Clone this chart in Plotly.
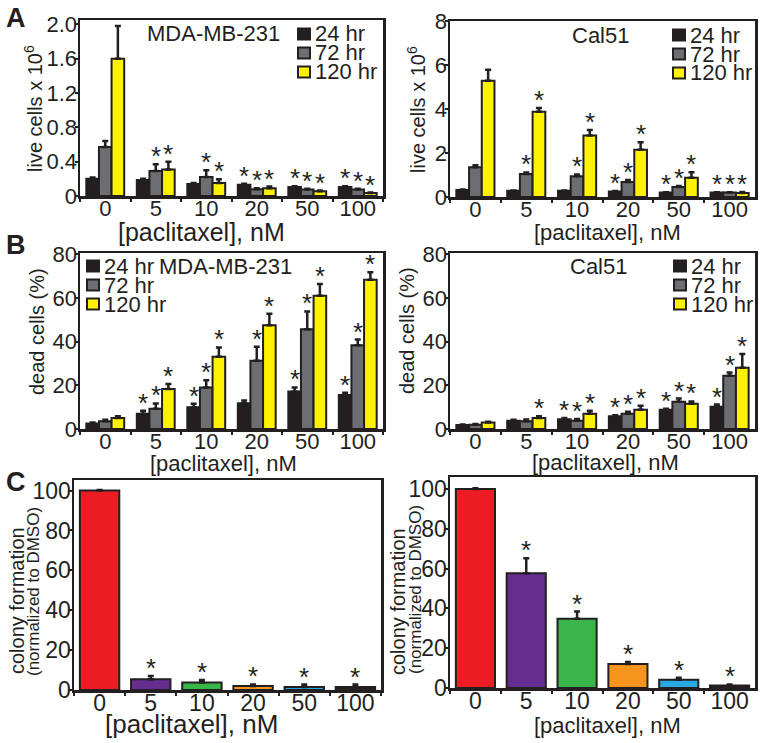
import plotly.graph_objects as go

# ---------------- data ----------------
conc = ["0", "5", "10", "20", "50", "100"]
series_names = ["24 hr", "72 hr", "120 hr"]

# Panel A: live cells x 10^6
mda_live_24 = [0.20, 0.185, 0.14, 0.13, 0.105, 0.105]
mda_live_24_err = [0.015, 0.015, 0.01, 0.012, 0.01, 0.01]
mda_live_72 = [0.57, 0.29, 0.22, 0.08, 0.075, 0.075]
mda_live_72_err = [0.07, 0.08, 0.08, 0.01, 0.01, 0.01]
mda_live_120 = [1.60, 0.31, 0.15, 0.09, 0.055, 0.035]
mda_live_120_err = [0.38, 0.09, 0.045, 0.02, 0.008, 0.005]
mda_live_star_24 = [0, 0, 0, 1, 1, 1]
mda_live_star_72 = [0, 1, 1, 1, 1, 1]
mda_live_star_120 = [0, 1, 1, 1, 1, 1]

cal_live_24 = [0.32, 0.28, 0.28, 0.25, 0.20, 0.20]
cal_live_24_err = [0.02, 0.02, 0.02, 0.02, 0.02, 0.02]
cal_live_72 = [1.35, 1.05, 0.95, 0.68, 0.45, 0.20]
cal_live_72_err = [0.10, 0.07, 0.08, 0.10, 0.05, 0.02]
cal_live_120 = [5.30, 3.88, 2.80, 2.15, 0.88, 0.18]
cal_live_120_err = [0.50, 0.17, 0.25, 0.35, 0.25, 0.05]
cal_live_star_24 = [0, 0, 0, 1, 1, 1]
cal_live_star_72 = [0, 1, 1, 1, 1, 1]
cal_live_star_120 = [0, 1, 1, 1, 1, 1]

# Panel B: dead cells (%)
mda_dead_24 = [2.5, 7.0, 10.0, 11.8, 17.2, 15.6]
mda_dead_24_err = [0.5, 1.4, 1.5, 1.2, 1.8, 1.0]
mda_dead_72 = [3.5, 9.3, 19.0, 31.2, 45.6, 38.3]
mda_dead_72_err = [0.7, 2.4, 3.3, 6.4, 8.2, 2.6]
mda_dead_120 = [5.0, 18.3, 33.0, 47.4, 61.0, 68.3]
mda_dead_120_err = [0.8, 2.3, 4.3, 5.3, 5.3, 3.4]
mda_dead_star_24 = [0, 1, 1, 0, 1, 1]
mda_dead_star_72 = [0, 1, 1, 1, 1, 1]
mda_dead_star_120 = [0, 1, 1, 1, 1, 1]

cal_dead_24 = [1.8, 3.8, 4.5, 5.8, 8.8, 10.2]
cal_dead_24_err = [0.3, 0.4, 0.5, 0.5, 0.5, 1.0]
cal_dead_72 = [2.0, 3.5, 3.8, 7.0, 12.5, 24.3]
cal_dead_72_err = [0.3, 0.8, 0.8, 0.9, 1.4, 1.5]
cal_dead_120 = [3.0, 5.0, 7.0, 8.8, 11.5, 28.0]
cal_dead_120_err = [0.3, 0.8, 1.3, 1.8, 1.1, 6.3]
cal_dead_star_24 = [0, 0, 1, 1, 1, 1]
cal_dead_star_72 = [0, 0, 1, 1, 1, 1]
cal_dead_star_120 = [0, 1, 1, 1, 1, 1]

# Panel C: colony formation (normalized to DMSO)
mda_colony = [100, 5.4, 3.8, 2.0, 1.5, 1.5]
mda_colony_err = [0.3, 1.6, 1.2, 0.8, 1.2, 1.2]
cal_colony = [100, 57.7, 34.8, 12.0, 4.2, 1.2]
cal_colony_err = [0.3, 7.5, 3.6, 1.0, 1.0, 0.6]
colony_star = [0, 1, 1, 1, 1, 1]

# ---------------- style ----------------
W, H = 764, 743
EDGE = "#231F20"
SERIES_COLORS = ["#231F20", "#6D6E71", "#FFF200"]
COLONY_COLORS = ["#ED1C24", "#662D91", "#39B54A", "#F7941D", "#27AAE1", "#231F20"]
FONT = "Liberation Sans, Arial, sans-serif"
STAR_SIZE = 26
STAR_SHIFT = -9

def px_x(v):
    return v / W

def px_y(v):
    return 1 - v / H

# panel frames in pixels: (left, right), (top, bottom)
frames = [
    ((80, 383), (20, 196)),
    ((450, 755), (21, 197)),
    ((80, 383), (253, 429)),
    ((450, 755), (253, 429)),
    ((74, 381), (480, 690)),
    ((450, 755), (477, 688)),
]

fig = go.Figure()
annotations = []
shapes = []

BW = 0.25  # single bar width in grouped panels

def axis_names(i):
    s = "" if i == 0 else str(i + 1)
    return "x" + s, "y" + s

def add_grouped(i, vals, errs, stars):
    xa, ya = axis_names(i)
    for k in range(3):
        off = -1.5 * BW + k * BW
        fig.add_trace(go.Bar(
            x=conc, y=vals[k], width=BW, offset=off,
            name=series_names[k], showlegend=False,
            marker=dict(color=SERIES_COLORS[k], line=dict(color=EDGE, width=2)),
            error_y=dict(type="data", array=errs[k], arrayminus=[0] * len(conc),
                         symmetric=False, color=EDGE, thickness=2.5, width=3),
            xaxis=xa, yaxis=ya,
        ))
        for j in range(len(conc)):
            if stars[k][j]:
                annotations.append(dict(
                    x=j + off + BW / 2, y=vals[k][j] + errs[k][j], xref=xa, yref=ya,
                    text="*", showarrow=False, yanchor="bottom",
                    font=dict(size=STAR_SIZE, color=EDGE, family=FONT), yshift=STAR_SHIFT,
                ))

def add_colony(i, vals, errs, stars):
    xa, ya = axis_names(i)
    bw = 0.77
    fig.add_trace(go.Bar(
        x=conc, y=vals, width=bw, showlegend=False,
        marker=dict(color=COLONY_COLORS, line=dict(color=EDGE, width=2)),
        error_y=dict(type="data", array=errs, arrayminus=[0] * len(conc),
                     symmetric=False, color=EDGE, thickness=2.5, width=3),
        xaxis=xa, yaxis=ya,
    ))
    for j in range(len(conc)):
        if stars[j]:
            annotations.append(dict(
                x=j, y=vals[j] + errs[j], xref=xa, yref=ya,
                text="*", showarrow=False, yanchor="bottom",
                font=dict(size=STAR_SIZE, color=EDGE, family=FONT), yshift=STAR_SHIFT,
            ))

add_grouped(0, [mda_live_24, mda_live_72, mda_live_120],
            [mda_live_24_err, mda_live_72_err, mda_live_120_err],
            [mda_live_star_24, mda_live_star_72, mda_live_star_120])
add_grouped(1, [cal_live_24, cal_live_72, cal_live_120],
            [cal_live_24_err, cal_live_72_err, cal_live_120_err],
            [cal_live_star_24, cal_live_star_72, cal_live_star_120])
add_grouped(2, [mda_dead_24, mda_dead_72, mda_dead_120],
            [mda_dead_24_err, mda_dead_72_err, mda_dead_120_err],
            [mda_dead_star_24, mda_dead_star_72, mda_dead_star_120])
add_grouped(3, [cal_dead_24, cal_dead_72, cal_dead_120],
            [cal_dead_24_err, cal_dead_72_err, cal_dead_120_err],
            [cal_dead_star_24, cal_dead_star_72, cal_dead_star_120])
add_colony(4, mda_colony, mda_colony_err, colony_star)
add_colony(5, cal_colony, cal_colony_err, colony_star)

y_ranges = [[0, 2.05], [0, 8.02], [0, 80.5], [0, 80.5], [0, 105.3], [0, 106]]
y_ticks = [
    ([0, 0.4, 0.8, 1.2, 1.6, 2.0], ["0", "0.4", "0.8", "1.2", "1.6", "2.0"]),
    ([0, 2, 4, 6, 8], ["0", "2", "4", "6", "8"]),
    ([0, 20, 40, 60, 80], ["0", "20", "40", "60", "80"]),
    ([0, 20, 40, 60, 80], ["0", "20", "40", "60", "80"]),
    ([0, 20, 40, 60, 80, 100], ["0", "20", "40", "60", "80", "100"]),
    ([0, 20, 40, 60, 80, 100], ["0", "20", "40", "60", "80", "100"]),
]

layout = dict(
    width=W, height=H,
    margin=dict(l=0, r=0, t=0, b=0, autoexpand=False),
    paper_bgcolor="white", plot_bgcolor="white",
    font=dict(family=FONT, color=EDGE),
    barmode="overlay",
    showlegend=False,
)

for i, ((l, r), (t, b)) in enumerate(frames):
    s = "" if i == 0 else str(i + 1)
    xa, ya = axis_names(i)
    tick_size = 23 if i >= 4 else 22
    layout["xaxis" + s] = dict(
        domain=[px_x(l), px_x(r)], anchor=ya, type="category", automargin=False,
        range=[-0.5, 5.5], showline=True, mirror=True, linecolor=EDGE, linewidth=2.5,
        ticks="outside", tickson="boundaries", ticklen=3, tickwidth=2, tickcolor=EDGE,
        ticklabelstandoff=-9,
        showgrid=False, zeroline=False, fixedrange=True,
        tickfont=dict(size=tick_size, family=FONT, color=EDGE),
    )
    layout["yaxis" + s] = dict(
        domain=[px_y(b), px_y(t)], anchor=xa, range=y_ranges[i], automargin=False,
        showline=True, mirror=True, linecolor=EDGE, linewidth=2.5,
        ticks="outside", ticklen=3, tickwidth=2, tickcolor=EDGE,
        ticklabelstandoff=-7,
        tickvals=y_ticks[i][0], ticktext=y_ticks[i][1],
        showgrid=False, zeroline=False, fixedrange=True,
        tickfont=dict(size=tick_size, family=FONT, color=EDGE),
    )

def text_ann(txt, cx, cy, size, angle=0, bold=False, anchor="center"):
    annotations.append(dict(
        x=px_x(cx), y=px_y(cy), xref="paper", yref="paper",
        text=("<b>" + txt + "</b>") if bold else txt, textangle=angle,
        showarrow=False, xanchor=anchor, yanchor="middle",
        font=dict(size=size, family=FONT, color=EDGE),
    ))

# x-axis titles
for (cx, cy, size) in [(202, 232, 25), (607, 232, 22), (223, 463, 22),
                       (605, 462, 22), (191, 724, 26), (607, 725, 22)]:
    text_ann("[paclitaxel], nM", cx, cy, size)

# y-axis titles
text_ann("live cells x 10<sup>6</sup>", 33, 109, 20, angle=-90)
text_ann("live cells x 10<sup>6</sup>", 416, 110, 20, angle=-90)
text_ann("dead cells (%)", 37, 332, 20, angle=-90)
text_ann("dead cells (%)", 407, 331, 20, angle=-90)
for (x1, x2, yc1, yc2) in [(17, 33, 601, 592), (398, 415, 602, 590)]:
    text_ann("colony formation", x1, yc1, 20, angle=-90)
    text_ann("(normalized to DMSO)", x2, yc2, 17, angle=-90)

# manual legends (square swatch + label)
legend_pos = [  # (swatch left px, swatch right px, text left px, row centers px)
    (298, 310, 313, [34, 53, 72]),
    (673, 685, 688, [35, 54, 73]),
    (87, 99, 102, [266, 285, 304]),
    (674, 686, 689, [266, 285, 304]),
]
for (sl, sr, tl, rows) in legend_pos:
    for k, yc in enumerate(rows):
        shapes.append(dict(
            type="rect", xref="paper", yref="paper",
            x0=px_x(sl), x1=px_x(sr), y0=px_y(yc + 5.5), y1=px_y(yc - 5.5),
            fillcolor=SERIES_COLORS[k], line=dict(color=EDGE, width=2),
        ))
        text_ann(series_names[k], tl, yc, 22, anchor="left")

# cell-line titles
for (txt, cx, cy) in [("MDA-MB-231", 213, 34), ("Cal51", 600, 35),
                      ("MDA-MB-231", 225, 266), ("Cal51", 598, 266)]:
    text_ann(txt, cx, cy, 22)

# panel letters
for (txt, cx, cy) in [("A", 16, 18), ("B", 16, 245), ("C", 16, 482)]:
    text_ann(txt, cx, cy, 27, bold=True)

layout["annotations"] = annotations
layout["shapes"] = shapes
fig.update_layout(**layout)

fig.write_html(
    "out.html",
    config={"displayModeBar": False, "staticPlot": True},
    post_script="document.body.style.margin='0';document.body.style.overflow='hidden';",
)
